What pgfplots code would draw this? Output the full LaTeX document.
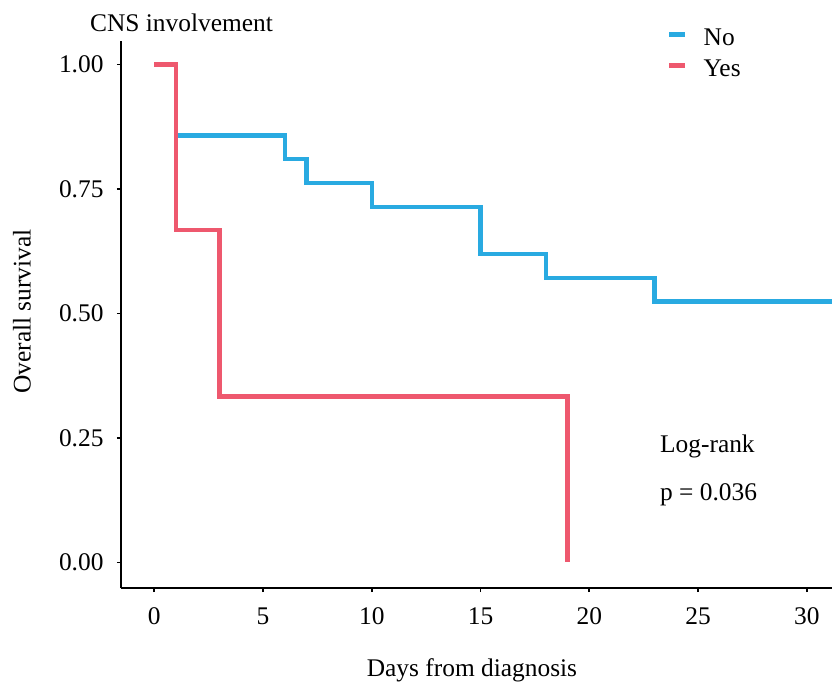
\documentclass[border=0pt]{standalone}
\usepackage{fontspec}
\setmainfont{Liberation Serif}
\usepackage{pgfplots}
\pgfplotsset{compat=1.18}
\definecolor{kmblue}{RGB}{41,170,225}
\definecolor{kmred}{RGB}{238,88,110}
\newcommand{\bigf}{\fontsize{25.5}{30}\selectfont}
\begin{document}
\begin{tikzpicture}
\useasboundingbox (-121bp,-98bp) rectangle (711bp,588bp);
\begin{axis}[
  at={(0,0)}, anchor=south west,
  scale only axis, width=711bp, height=547bp,
  xmin=-1.53, xmax=31.16, ymin=-0.0514, ymax=1.047,
  axis x line*=bottom, axis y line*=left,
  axis line style={black, line width=1.6bp},
  xtick={0,5,...,30}, ytick={0,0.25,0.5,0.75,1},
  yticklabel style={/pgf/number format/fixed, /pgf/number format/fixed zerofill, /pgf/number format/precision=2},
  /pgf/number format/assume math mode=true,
  tick align=outside, major tick length=4bp,
  tick style={black, line width=1.6bp},
  every tick label/.append style={font=\bigf},
  xticklabel style={yshift=-12bp},
  yticklabel style={xshift=-10bp},
  xlabel={Days from diagnosis}, ylabel={Overall survival},
  every axis x label/.style={at={(axis description cs:0,0)}, anchor=center, xshift=351bp, yshift=-82bp, font=\bigf},
  every axis y label/.style={at={(axis description cs:-0.1392,0.5055)}, rotate=90, anchor=center, font=\bigf},
  clip=true,
  legend style={at={(rel axis cs:0,1)}, anchor=north west, xshift=543bp, yshift=15bp,
    draw=none, fill=none, font=\bigf, row sep=0pt,
    nodes={inner sep=0pt, text height=17bp, text depth=14bp},
    /tikz/every odd column/.append style={column sep=16bp}},
  legend cell align=left,
  legend image code/.code={\draw[line width=4.5bp, line cap=butt] (0bp,9bp) -- (16bp,9bp);},
]
\addplot[kmblue, line width=4.5bp, line join=miter, line cap=butt] coordinates {
  (0,1) (1,1) (1,0.857) (6,0.857) (6,0.810) (7,0.810) (7,0.762) (10,0.762)
  (10,0.714) (15,0.714) (15,0.619) (18,0.619) (18,0.571) (23,0.571)
  (23,0.524) (32,0.524)};
\addlegendentry{No}
\addplot[kmred, line width=4.5bp, line join=miter, line cap=butt] coordinates {
  (0,1) (1,1) (1,0.667) (3,0.667) (3,0.333) (19,0.333) (19,0)};
\addlegendentry{Yes}
\node[anchor=base west, inner sep=0pt, font=\bigf] at (axis cs:23.25,0.220) {Log-rank};
\node[anchor=base west, inner sep=0pt, font=\bigf] at (axis cs:23.25,0.124) {p = 0.036};
\end{axis}
\node[anchor=base west, inner sep=0pt, font=\bigf] at (-31bp,556bp) {CNS involvement};
\end{tikzpicture}
\end{document}
